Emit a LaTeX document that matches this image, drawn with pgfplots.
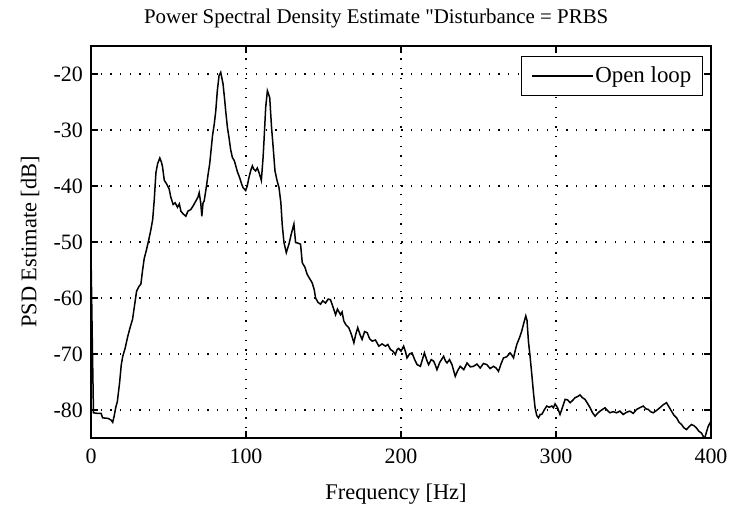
\documentclass[border=0pt]{standalone}
\usepackage{fontspec}
\setmainfont{Liberation Serif}
\usepackage{pgfplots}
\pgfplotsset{compat=1.18}
\begin{document}
\fontsize{21}{25}\selectfont
\begin{tikzpicture}
\begin{axis}[
  scale only axis, width=620bp, height=392bp,
  xmin=0, xmax=400, ymin=-85, ymax=-15,
  xtick={0,100,200,300,400}, ytick={-80,-70,-60,-50,-40,-30,-20},
  tick pos=both, tick align=inside, major tick length=7bp,
  grid=major,
  major grid style={black, line width=1.2bp, dash pattern=on 1.2bp off 8.5bp},
  axis line style={line width=1.2bp},
  every tick/.style={black, line width=1.2bp},
  tick label style={font=\fontsize{22}{26}\selectfont},
  xticklabel style={anchor=base, yshift=-26bp},
  yticklabel style={xshift=-1bp},
  /pgf/number format/assume math mode=true,
  xlabel={Frequency [Hz]}, ylabel={PSD Estimate [dB]},
  label style={font=\fontsize{22.5}{26}\selectfont},
  xlabel style={at={(0.492,0)}, anchor=base, yshift=-62bp},
  title={Power Spectral Density Estimate \textquotedbl Disturbance = PRBS},
  title style={at={(0.46,1)}, anchor=base, yshift=17bp, font=\fontsize{21}{25}\selectfont},
  legend style={at={(1,1)}, anchor=north east, xshift=-8bp, yshift=-10bp,
    draw=black, line width=1.2bp, fill=white, font=\fontsize{23}{27}\selectfont,
    inner xsep=9bp, inner ysep=8bp, nodes={inner sep=2bp}},
  legend image code/.code={\draw[line width=1.5bp] (0bp,0bp) -- (61bp,0bp);},
]
\addplot[black, line width=1.5bp] coordinates {
(0,-52) (0.8,-67) (1.6,-80.5) (4,-80.6) (6.5,-80.6) (7.5,-81.4) (11,-81.5) (13,-81.8)
(14,-82.2) (15,-81) (16,-79.5) (17,-78.5) (18.5,-75) (19.5,-72) (20.5,-70.4) (22,-69)
(23.6,-67) (25,-65.5) (26.8,-63.8) (28,-61.5) (29.4,-58.8) (30.8,-58) (32.2,-57.5)
(33.3,-55) (34.3,-53) (35.7,-51.5) (37.1,-49.8) (38.5,-48) (39.8,-46) (40.8,-42.5)
(41.9,-37.6) (43,-36) (44.4,-35) (45.5,-35.8) (46.1,-36.5) (47.3,-39) (48.5,-39.5)
(50.4,-40.5) (51.5,-42) (53,-43.3) (54.3,-43) (55.8,-43.8) (57,-43.2) (58,-44.5)
(59.5,-45) (61.2,-45.4) (62.5,-44.5) (64.4,-44.2) (66,-43.5) (67.6,-42.7) (69,-42)
(69.8,-41.2) (70.8,-43) (71.5,-45.4) (72.3,-43) (73,-42.7) (74.5,-40) (75.5,-38)
(76.6,-36) (77.5,-33.5) (78.4,-31) (79.5,-29) (80.5,-26.6) (81.5,-23) (82.6,-20.3)
(83.7,-19.7) (85.2,-21.8) (86.2,-24.5) (86.9,-26.6) (88,-29.5) (89,-31.3) (90.1,-33.5)
(91.2,-34.9) (92.5,-35.5) (93.4,-36.4) (94.5,-37.5) (95.9,-38.5) (97,-39.5) (98.1,-40.3)
(99.8,-40.8) (100.8,-40) (101.9,-38.5) (103,-37.3) (104.1,-36.4) (105,-37) (106.2,-37.3)
(107.3,-36.8) (108.4,-37.6) (109.9,-39) (111,-35) (111.6,-32) (112.7,-26) (113.8,-23)
(115.3,-24.2) (116.5,-29.6) (117.5,-33) (118.7,-37.3) (120,-39) (121.3,-40.3) (122.5,-43)
(123.4,-47) (124.5,-50.1) (126,-51.9) (127,-51) (127.7,-50.4) (129.2,-48.6) (130.9,-46.8)
(132,-50.1) (133.5,-50.2) (135.2,-50.4) (136.3,-53.7) (138,-54.5) (139.5,-55.8) (141,-56.5)
(142.7,-57.3) (144,-58.5) (144.9,-60) (146.5,-60.8) (148.1,-61.1) (149.5,-60.5) (151.3,-60.9)
(153,-60.2) (154.5,-60.3) (156,-61.5) (157.8,-63) (159,-62) (161,-63) (162,-62.5)
(163.1,-64.1) (164.5,-64.8) (166.3,-65.3) (168,-66.5) (169.6,-68) (170.8,-66.5) (172.1,-65.3)
(173.5,-66.5) (174.9,-67.4) (176.5,-66) (178.2,-66.2) (179.8,-67.3) (181.4,-67.7) (183.5,-67.5)
(185.7,-68.6) (187.8,-68.2) (190,-68.6) (191.5,-68.3) (193.2,-69.2) (194.8,-69.5) (196.4,-70.1)
(197.5,-69.2) (198.5,-69) (200,-69.5) (201.7,-68.6) (202.8,-69.5) (203.9,-70.7) (205.5,-70)
(207.1,-69.8) (208.8,-71) (210.4,-71.9) (212.5,-72.2) (213.8,-71) (215.1,-69.8) (216.5,-71)
(217.8,-71.9) (219.5,-71) (221.1,-71.3) (222.2,-72) (223.2,-72.8) (225,-71.5) (227.5,-70.4)
(228.6,-71.2) (229.7,-71.6) (231.3,-71) (232.9,-71.9) (234,-73) (235,-74) (236.5,-73)
(238.2,-72.2) (240.5,-72.8) (242.6,-71.6) (244.7,-72.3) (246.8,-72.2) (249,-71.8) (251.1,-72.5)
(253.2,-71.7) (255.4,-71.9) (257.5,-72.6) (259.7,-72.2) (261.3,-72.5) (262.9,-73.1) (264.5,-71.8)
(266.1,-70.7) (268.2,-70.5) (270.4,-69.8) (271.5,-70.2) (272.6,-70.7) (273.6,-69.5) (274.7,-68.3)
(276.3,-67.2) (277.9,-65.9) (279.2,-64.5) (280.5,-63.2) (281.3,-64) (282.2,-67.7) (283.3,-70.5)
(284.4,-73.7) (285.5,-77) (286.5,-79.6) (287.6,-81) (288.7,-81.4) (289.8,-80.8) (290.8,-80.8)
(292.4,-80) (294,-79.3) (295.6,-79.5) (297.3,-79.3) (298.3,-79.6) (299.4,-78.9) (301,-79.6)
(302.6,-80.8) (304.2,-79.5) (305.9,-78.1) (307.5,-78.2) (309.1,-78.7) (310.7,-78.3) (312.3,-77.8)
(314,-77.6) (315.5,-77.3) (317,-77.8) (318.7,-78.1) (320.3,-78.8) (322,-79.6) (323.6,-80.5)
(325.2,-81.1) (326.8,-80.6) (328.4,-80.2) (330,-79.9) (331.6,-79.6) (333.2,-80.1) (334.8,-80.5)
(337,-80.3) (339.1,-80.5) (341.2,-80.2) (343.4,-80.8) (345.5,-80.4) (347.7,-80.2) (349.8,-80.6)
(352,-79.9) (354,-79.6) (356.3,-79.3) (358,-79.8) (359.5,-79.9) (361,-80.3) (362.7,-80.5)
(364.8,-80.1) (367,-79.6) (369,-79.1) (371.3,-78.7) (373,-79.5) (374.5,-80.2) (376,-80.9)
(377.8,-81.4) (379.4,-82.2) (381,-82.6) (382.6,-83.2) (384.2,-83.5) (385.8,-83) (387.4,-82.6)
(389,-82.8) (390.6,-83.2) (392.2,-83.8) (393.8,-84.1) (395,-84.7) (396,-85) (397,-84)
(398.1,-83) (399,-82.5) (400,-82)
};
\addlegendentry{Open loop}
\coordinate (bl) at (rel axis cs:0,0);
\coordinate (tr) at (rel axis cs:1,1);
\end{axis}
\path (bl) ++(-91bp,-67bp) coordinate (A);
\path (tr) ++(21bp,46bp) coordinate (B);
\pgfresetboundingbox
\path[use as bounding box] (A) rectangle (B);
\end{tikzpicture}
\end{document}
